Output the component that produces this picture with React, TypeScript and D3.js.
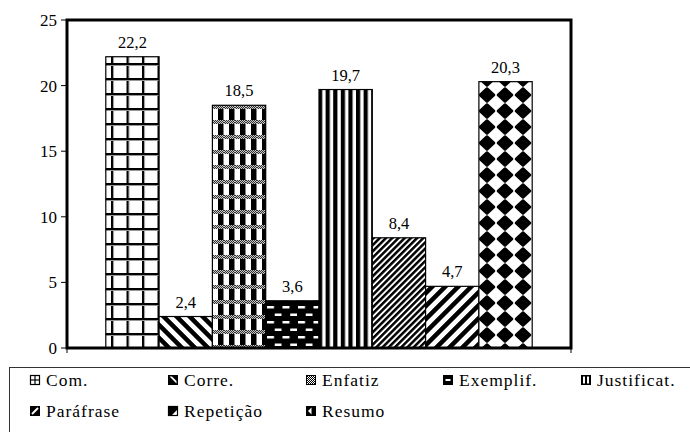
import React from "react";
import * as d3 from "d3";

const categories = ["Com.", "Corre.", "Enfatiz", "Exemplif.", "Justificat.", "Paráfrase", "Repetição", "Resumo"];
const values = [22.2, 2.4, 18.5, 3.6, 19.7, 8.4, 4.7, 20.3];
const labels = ["22,2", "2,4", "18,5", "3,6", "19,7", "8,4", "4,7", "20,3"];
const yTicks = [0, 5, 10, 15, 20, 25];
const patternIds = ["pCom", "pCorre", "pEnf", "pExe", "pJus", "pPar", "pRep", "pRes"];

const W = 690;
const H = 432;
const plot = { left: 67, right: 571, top: 20, bottom: 348 };
const FONT = "Liberation Serif, Times New Roman, Tinos, serif";

function Patterns() {
  return (
    <defs>
      <pattern id="pCom" patternUnits="userSpaceOnUse" width={15.5} height={15} x={111} y={63}>
        <rect width={15.5} height={15} fill="#fff" />
        <rect x={0} y={0} width={2} height={15} fill="#000" />
        <rect x={2} y={0} width={1} height={15} fill="#999" />
        <rect x={0} y={0} width={15.5} height={2} fill="#000" />
        <rect x={0} y={2} width={15.5} height={1} fill="#999" />
      </pattern>
      <pattern id="pCorre" patternUnits="userSpaceOnUse" width={9.2} height={9.2} patternTransform="rotate(-45)">
        <rect width={9.2} height={9.2} fill="#fff" />
        <rect width={4.6} height={9.2} fill="#000" />
      </pattern>
      <pattern id="fineCheck" patternUnits="userSpaceOnUse" width={2} height={2}>
        <rect width={2} height={2} fill="#fff" />
        <rect width={1} height={1} fill="#000" />
        <rect x={1} y={1} width={1} height={1} fill="#000" />
      </pattern>
      <pattern id="pEnf" patternUnits="userSpaceOnUse" width={11} height={15} x={213} y={300}>
        <rect width={11} height={15} fill="#fff" />
        <rect x={5} width={5.5} height={15} fill="#000" />
        <rect y={0} width={11} height={4} fill="#777" />
        <rect y={0} width={11} height={4} fill="url(#fineCheck)" opacity={0.6} />
      </pattern>
      <pattern id="pExe" patternUnits="userSpaceOnUse" width={15.5} height={15} x={266} y={305}>
        <rect width={15.5} height={15} fill="#000" />
        <rect x={1} y={1} width={7} height={2.5} fill="#fff" />
        <rect x={8.75} y={8.5} width={7} height={2.5} fill="#fff" />
      </pattern>
      <pattern id="pJus" patternUnits="userSpaceOnUse" width={7.6} height={10} x={318}>
        <rect width={7.6} height={10} fill="#fff" />
        <rect x={0} width={4.2} height={10} fill="#000" />
      </pattern>
      <pattern id="pPar" patternUnits="userSpaceOnUse" width={4.4} height={4.4} patternTransform="rotate(45)">
        <rect width={4.4} height={4.4} fill="#fff" />
        <rect width={2.5} height={4.4} fill="#000" />
      </pattern>
      <pattern id="pRep" patternUnits="userSpaceOnUse" width={9.2} height={9.2} patternTransform="rotate(45)">
        <rect width={9.2} height={9.2} fill="#fff" />
        <rect width={4.6} height={9.2} fill="#000" />
      </pattern>
      <pattern id="pRes" patternUnits="userSpaceOnUse" width={18} height={16} x={478} y={119}>
        <rect width={18} height={16} fill="#fff" />
        <path d="M9,1.5 L16,8 L9,14.5 L2,8 Z" fill="#000" stroke="#000" strokeWidth={2.5} strokeLinejoin="round" />
      </pattern>
    </defs>
  );
}

function Swatch({ kind, x, y }: { kind: number; x: number; y: number }) {
  const s = 10;
  let inner: React.ReactNode = null;
  switch (kind) {
    case 0:
      inner = (
        <>
          <rect x={0.5} y={0.5} width={s - 1} height={s - 1} fill="#fff" stroke="#000" strokeWidth={1.2} />
          <line x1={s / 2} x2={s / 2} y1={0} y2={s} stroke="#000" strokeWidth={1.2} />
          <line x1={0} x2={s} y1={s / 2} y2={s / 2} stroke="#000" strokeWidth={1.2} />
        </>
      );
      break;
    case 1:
      inner = (
        <>
          <rect width={s} height={s} fill="#000" />
          <polygon points="1.5,1.5 4,1.5 8.5,6 8.5,8.5" fill="#fff" />
        </>
      );
      break;
    case 2:
      inner = <rect x={0.5} y={0.5} width={s - 1} height={s - 1} fill="url(#fineCheck)" stroke="#000" strokeWidth={1} />;
      break;
    case 3:
      inner = (
        <>
          <rect width={s} height={s} fill="#000" />
          <rect x={2.5} y={4} width={5} height={2} fill="#fff" />
        </>
      );
      break;
    case 4:
      inner = (
        <>
          <rect width={s} height={s} fill="#000" />
          <rect x={2} y={1.5} width={2} height={7} fill="#fff" />
          <rect x={6} y={1.5} width={2} height={7} fill="#fff" />
        </>
      );
      break;
    case 5:
      inner = (
        <>
          <rect width={s} height={s} fill="#000" />
          <line x1={2} y1={8} x2={8} y2={2} stroke="#fff" strokeWidth={2} />
        </>
      );
      break;
    case 6:
      inner = (
        <>
          <rect x={0.5} y={0.5} width={s - 1} height={s - 1} fill="#fff" stroke="#000" strokeWidth={1.2} />
          <polygon points="0,0 10,0 10,3 3,10 0,10" fill="#000" />
        </>
      );
      break;
    default:
      inner = (
        <>
          <rect width={s} height={s} fill="#000" />
          <polygon points="2,5 5.5,1.5 5.5,8.5" fill="#fff" />
        </>
      );
  }
  return <g transform={`translate(${x},${y})`}>{inner}</g>;
}

export default function App() {
  const x = d3
    .scaleBand<string>()
    .domain(categories)
    .range([plot.left, plot.right])
    .paddingInner(0)
    .paddingOuter(0.728);
  const y = d3.scaleLinear().domain([0, 25]).range([plot.bottom, plot.top]);

  const legendCols = [30, 168, 306, 443, 581];
  const legendRows = [380, 411];

  return (
    <svg
      width={W}
      height={H}
      viewBox={`0 0 ${W} ${H}`}
      style={{ position: "absolute", left: 0, top: 0, background: "#fff" }}
      fontFamily={FONT}
    >
      <Patterns />
      <rect x={0} y={0} width={W} height={H} fill="#fff" />
      {categories.map((c, i) => {
        const bx = x(c)!;
        const by = y(values[i]);
        return (
          <g key={c}>
            <rect
              x={bx}
              y={by}
              width={x.bandwidth()}
              height={plot.bottom - by}
              fill={`url(#${patternIds[i]})`}
              stroke="#000"
              strokeWidth={1.2}
            />
            <text x={bx + x.bandwidth() / 2} y={by - 9} textAnchor="middle" fontSize={16.5} fill="#000">
              {labels[i]}
            </text>
          </g>
        );
      })}
      <rect
        x={plot.left}
        y={plot.top}
        width={plot.right - plot.left}
        height={plot.bottom - plot.top}
        fill="none"
        stroke="#000"
        strokeWidth={3}
      />
      {yTicks.map((t) => (
        <g key={t}>
          <line x1={plot.left - 6} x2={plot.left} y1={y(t)} y2={y(t)} stroke="#000" strokeWidth={1} />
          <text x={57} y={y(t)} dy="0.35em" textAnchor="end" fontSize={17} fill="#000">
            {t}
          </text>
        </g>
      ))}
      {[plot.left, plot.right].map((px) => (
        <line key={px} x1={px} x2={px} y1={plot.bottom} y2={plot.bottom + 5} stroke="#000" strokeWidth={1} />
      ))}
      <rect x={9.5} y={367.5} width={700} height={80} fill="none" stroke="#333" strokeWidth={1} />
      {categories.map((c, i) => {
        const col = i % 5;
        const row = Math.floor(i / 5);
        const lx = legendCols[col];
        const ly = legendRows[row];
        return (
          <g key={`lg-${c}`}>
            <Swatch kind={i} x={lx} y={ly - 5} />
            <text x={lx + 16} y={ly} dy="0.35em" fontSize={17.5} letterSpacing={1} fill="#000">
              {c}
            </text>
          </g>
        );
      })}
    </svg>
  );
}
